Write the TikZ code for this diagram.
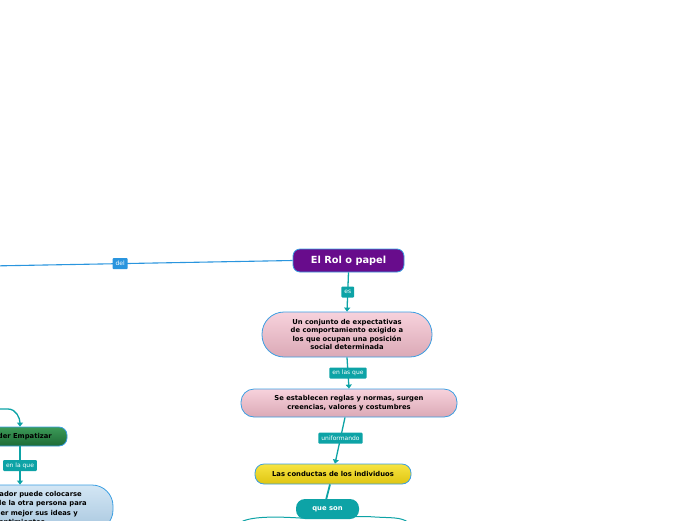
\documentclass[tikz,border=0pt]{standalone}
\usepackage{fontspec}
\setmainfont{DejaVu Sans}
\usetikzlibrary{arrows.meta}
\definecolor{rolpurple}{HTML}{680C8C}
\definecolor{tealc}{HTML}{0DA3A6}
\definecolor{bluec}{HTML}{2A95DE}
\definecolor{bordc}{HTML}{3A9EE2}
\definecolor{pinktop}{HTML}{F7D2DC}
\definecolor{pinkbot}{HTML}{DBA9B6}
\definecolor{yeltop}{HTML}{F7E441}
\definecolor{yelbot}{HTML}{DFC512}
\definecolor{grtop}{HTML}{3C9A58}
\definecolor{grbot}{HTML}{1E6B36}
\definecolor{lbtop}{HTML}{D3E6F4}
\definecolor{lbbot}{HTML}{A8C7DF}
\tikzset{
  x=1pt,y=-1pt,
  box/.style={draw=bordc, line width=0.8pt, align=center, inner sep=2pt,
    font=\fontsize{6.8}{8.4}\selectfont\bfseries},
  lbl/.style={fill=#1, text=white, rounded corners=1pt, inner xsep=3pt, inner ysep=1.5pt,
    minimum height=11pt, font=\fontsize{6}{6.5}\selectfont},
  lbl/.default=tealc,
  conn/.style={draw=tealc, line width=1.3pt},
  arr/.style={conn, -{Triangle[width=6pt,length=4pt]}},
}
\begin{document}
\begin{tikzpicture}
\useasboundingbox (0,0) rectangle (696,520);
\clip (0,0) rectangle (696,520);

% nodes
\node[box, fill=rolpurple, text=white, minimum width=111pt, minimum height=23pt,
  rounded corners=7pt, font=\fontsize{9.8}{11}\selectfont\bfseries] (rol) at (348.5,260.5) {El Rol o papel};
\node[box, top color=pinktop, bottom color=pinkbot, minimum width=170pt, minimum height=45pt,
  rounded corners=22pt] (b2) at (347,334.5)
  {Un conjunto de expectativas\\de comportamiento exigido a\\los que ocupan una posición\\social determinada};
\node[box, top color=pinktop, bottom color=pinkbot, minimum width=216pt, minimum height=28pt,
  rounded corners=13pt] (b3) at (349,403)
  {Se establecen reglas y normas, surgen\\creencias, valores y costumbres};
\node[box, top color=yeltop, bottom color=yelbot, minimum width=156pt, minimum height=20pt,
  rounded corners=9pt] (b4) at (333,474) {Las conductas de los individuos};

% wavy outline below
\draw[draw=tealc, line width=1pt, fill=white] (238,524) .. controls (246,517) and (268,516) .. (300,518)
  .. controls (330,520) and (350,515) .. (375,517) .. controls (392,518) and (400,517) .. (408,522);

\draw[conn, line width=1.8pt] ([xshift=-3pt]b4.south) -- (326,500) coordinate (qtop);
\node[box, draw=none, fill=tealc, text=white, minimum width=63pt, minimum height=20pt,
  rounded corners=9pt] (qs) at (327.5,509) {que son};

% left side
\node[box, top color=grtop, bottom color=grbot, minimum width=94pt, minimum height=19pt,
  rounded corners=8pt] (emp) at (20,436.5) {Poder Empatizar};
\node[box, top color=lbtop, bottom color=lbbot, minimum width=186pt, minimum height=46pt,
  rounded corners=21pt, font=\fontsize{6.8}{9.5}\selectfont\bfseries] (lb) at (20,508)
  {El comunicador puede colocarse\\en el lugar de la otra persona para\\comprender mejor sus ideas y\\sentimientos};

% connectors
\coordinate (farleft) at (-10,266);
\draw[draw=bluec, line width=1.1pt] (rol.west) -- node[lbl=bluec, pos=0.57]{del} (farleft);
\draw[arr] (rol.south) -- node[lbl]{es} (b2.north);
\draw[arr] (b2.south) -- node[lbl]{en las que} (b3.north);
\draw[arr] ([xshift=-4pt]b3.south) -- node[lbl, pos=0.45]{uniformando} ([xshift=2pt]b4.north);
\coordinate (curvein) at (-10,409);
\draw[arr] (curvein) -- (8,409) to[out=0,in=90] (emp.north);
\draw[arr] (emp.south) -- node[lbl]{en la que} (lb.north);
\end{tikzpicture}
\end{document}
